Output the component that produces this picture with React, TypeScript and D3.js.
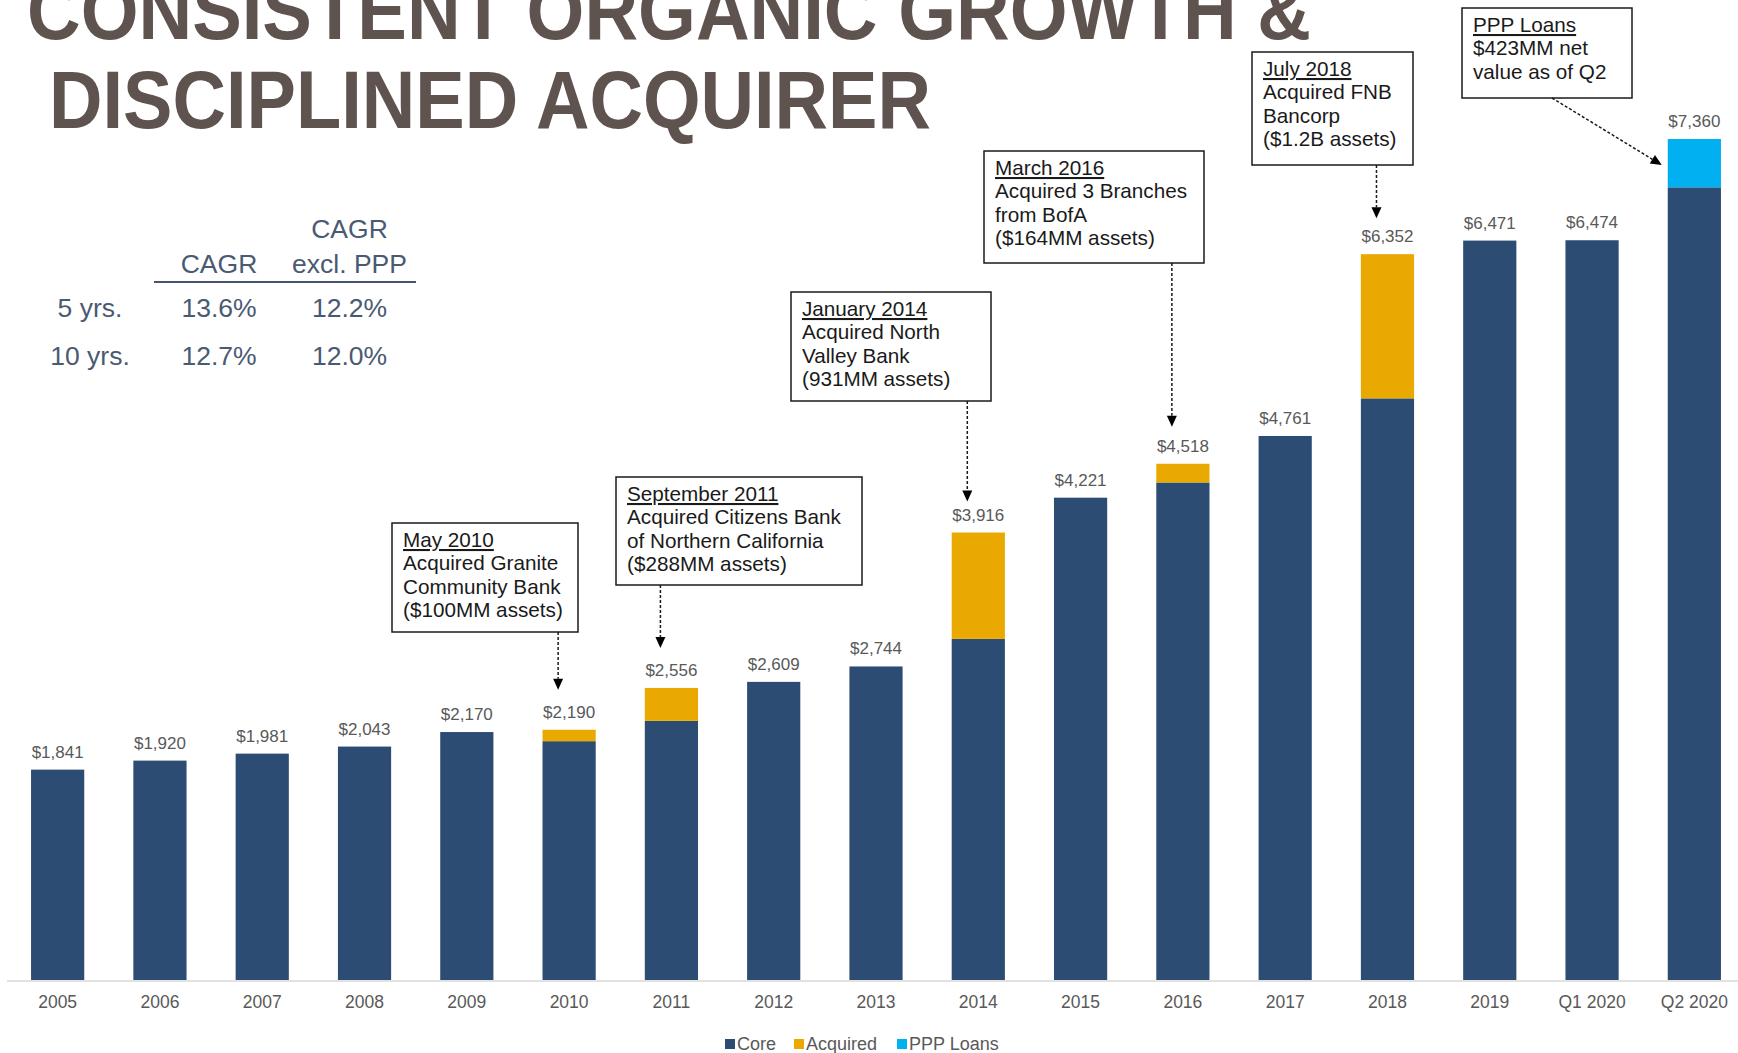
import React, { useEffect } from "react";
import * as d3 from "d3";

const categories = ["2005", "2006", "2007", "2008", "2009", "2010", "2011", "2012", "2013", "2014", "2015", "2016", "2017", "2018", "2019", "Q1 2020", "Q2 2020"];
const coreValues = [1841, 1920, 1981, 2043, 2170, 2090, 2268, 2609, 2744, 2985, 4221, 4354, 4761, 5090, 6471, 6474, 6937];
const acquiredValues = [0, 0, 0, 0, 0, 100, 288, 0, 0, 931, 0, 164, 0, 1262, 0, 0, 0];
const pppValues = [0, 0, 0, 0, 0, 0, 0, 0, 0, 0, 0, 0, 0, 0, 0, 0, 423];

const seriesNames = ["Core", "Acquired", "PPP Loans"];
const seriesColors = ["#2d4c74", "#eaa900", "#00b0f0"];

const cagrRowLabels = ["5 yrs.", "10 yrs."];
const cagrValues = ["13.6%", "12.7%"];
const cagrExPppValues = ["12.2%", "12.0%"];

const titleLines = ["CONSISTENT ORGANIC GROWTH &", "DISCIPLINED ACQUIRER"];

const annTitles = ["May 2010", "September 2011", "January 2014", "March 2016", "July 2018", "PPP Loans"];
const annBodies = [
  ["Acquired Granite", "Community Bank", "($100MM assets)"],
  ["Acquired Citizens Bank", "of Northern California", "($288MM assets)"],
  ["Acquired North", "Valley Bank", "(931MM assets)"],
  ["Acquired 3 Branches", "from BofA", "($164MM assets)"],
  ["Acquired FNB", "Bancorp", "($1.2B assets)"],
  ["$423MM net", "value as of Q2"],
];
const annTargets = ["2010", "2011", "2014", "2016", "2018", "Q2 2020"];

// layout only (pixel boxes)
const annBoxes = [
  { x: 392, y: 523, w: 186, h: 109, tipGap: 40 },
  { x: 616, y: 477, w: 246, h: 108, tipGap: 40 },
  { x: 791, y: 292, w: 200, h: 109, tipGap: 31 },
  { x: 984, y: 151, w: 220, h: 112, tipGap: 37 },
  { x: 1252, y: 52, w: 161, h: 113, tipGap: 36 },
  { x: 1462, y: 8, w: 170, h: 90, tipGap: -26 },
];

const W = 1738;
const H = 1053;
const FONT = "'Liberation Sans', Arial, sans-serif";

export default function App() {
  useEffect(() => {
    document.body.style.margin = "0";
    document.body.style.background = "#ffffff";
  }, []);

  const x = d3.scaleBand<string>().domain(categories).range([6.5, 1745.5]).paddingInner(0.48).paddingOuter(0.24);
  const y = d3.scaleLinear().domain([0, 7360]).range([980, 139]);
  const bw = x.bandwidth();

  const rows = categories.map((c, i) => ({ cat: c, Core: coreValues[i], Acquired: acquiredValues[i], "PPP Loans": pppValues[i] }));
  const stacked = d3.stack<any>().keys(seriesNames)(rows);
  const fmt = d3.format("$,");
  const totals = categories.map((_, i) => coreValues[i] + acquiredValues[i] + pppValues[i]);

  const lineH = 23.3;
  const annFs = 20.7;

  return (
    <svg width={W} height={H} style={{ display: "block", fontFamily: FONT }}>
      <rect x={0} y={0} width={W} height={H} fill="#ffffff" />
      {/* Title */}
      <text x={27} y={39} fontSize={82} fontWeight="bold" fill="#5f5350" textLength={1284} lengthAdjust="spacingAndGlyphs">
        {titleLines[0]}
      </text>
      <text x={49} y={128} fontSize={82} fontWeight="bold" fill="#5f5350" textLength={882} lengthAdjust="spacingAndGlyphs">
        {titleLines[1]}
      </text>

      {/* CAGR table */}
      <g fill="#4a5a72" fontSize={26.5} textAnchor="middle">
        <text x={349.5} y={238}>CAGR</text>
        <text x={219} y={273}>CAGR</text>
        <text x={349.5} y={273}>excl. PPP</text>
        <line x1={154} x2={416} y1={282} y2={282} stroke="#44546a" strokeWidth={2} />
        {cagrRowLabels.map((r, i) => (
          <g key={r}>
            <text x={90} y={317 + i * 48}>{r}</text>
            <text x={219} y={317 + i * 48}>{cagrValues[i]}</text>
            <text x={349.5} y={317 + i * 48}>{cagrExPppValues[i]}</text>
          </g>
        ))}
      </g>

      {/* Bars */}
      {stacked.map((s, si) => (
        <g key={s.key} fill={seriesColors[si]}>
          {s.map((d: any, i: number) =>
            d[1] - d[0] > 0 ? (
              <rect key={i} x={x(categories[i])} y={y(d[1])} width={bw} height={y(d[0]) - y(d[1])} />
            ) : null
          )}
        </g>
      ))}

      {/* axis line */}
      <line x1={7} x2={W} y1={981} y2={981} stroke="#d9d9d9" strokeWidth={1.5} />

      {/* value labels */}
      {categories.map((c, i) => (
        <text key={c} x={(x(c) as number) + bw / 2} y={y(totals[i]) - 12} textAnchor="middle" fontSize={17} fill="#595959">
          {fmt(totals[i])}
        </text>
      ))}

      {/* category labels */}
      {categories.map((c) => (
        <text key={c} x={(x(c) as number) + bw / 2} y={1008} textAnchor="middle" fontSize={17.5} fill="#595959">
          {c}
        </text>
      ))}

      {/* legend */}
      <g fontSize={18} fill="#595959">
        {seriesNames.map((n, i) => {
          const lx = [725, 794, 897][i];
          return (
            <g key={n}>
              <rect x={lx} y={1039} width={10} height={10} fill={seriesColors[i]} />
              <text x={lx + 12} y={1050}>{n}</text>
            </g>
          );
        })}
      </g>

      {/* annotations */}
      {annTitles.map((t, ai) => {
        const b = annBoxes[ai];
        const idx = categories.indexOf(annTargets[ai]);
        const cx = (x(annTargets[ai]) as number) + bw / 2 - 11;
        let x1: number, y1: number, x2: number, y2: number;
        if (ai < 5) {
          x1 = cx; y1 = b.y + b.h; x2 = cx; y2 = y(totals[idx]) - b.tipGap;
        } else {
          x1 = 1552; y1 = b.y + b.h; x2 = (x(annTargets[ai]) as number) - 6; y2 = y(totals[idx]) - b.tipGap;
        }
        const ang = Math.atan2(y2 - y1, x2 - x1);
        const hl = 11, hw = 5;
        const bx = x2 - hl * Math.cos(ang), by = y2 - hl * Math.sin(ang);
        const p1 = [bx + hw * Math.sin(ang), by - hw * Math.cos(ang)];
        const p2 = [bx - hw * Math.sin(ang), by + hw * Math.cos(ang)];
        return (
          <g key={t}>
            <rect x={b.x} y={b.y} width={b.w} height={b.h} fill="#ffffff" stroke="#1a1a1a" strokeWidth={1.5} />
            <text x={b.x + 11} y={b.y + 24} fontSize={annFs} fill="#1a1a1a" textDecoration="underline" style={{ textDecoration: "underline" }}>
              {t}
            </text>
            {annBodies[ai].map((l, li) => (
              <text key={li} x={b.x + 11} y={b.y + 24 + (li + 1) * lineH} fontSize={annFs} fill="#1a1a1a">
                {l}
              </text>
            ))}
            <line x1={x1} y1={y1} x2={bx} y2={by} stroke="#1a1a1a" strokeWidth={1.5} strokeDasharray="3,2" />
            <path d={`M${x2},${y2}L${p1[0]},${p1[1]}L${p2[0]},${p2[1]}Z`} fill="#000" />
          </g>
        );
      })}
    </svg>
  );
}
